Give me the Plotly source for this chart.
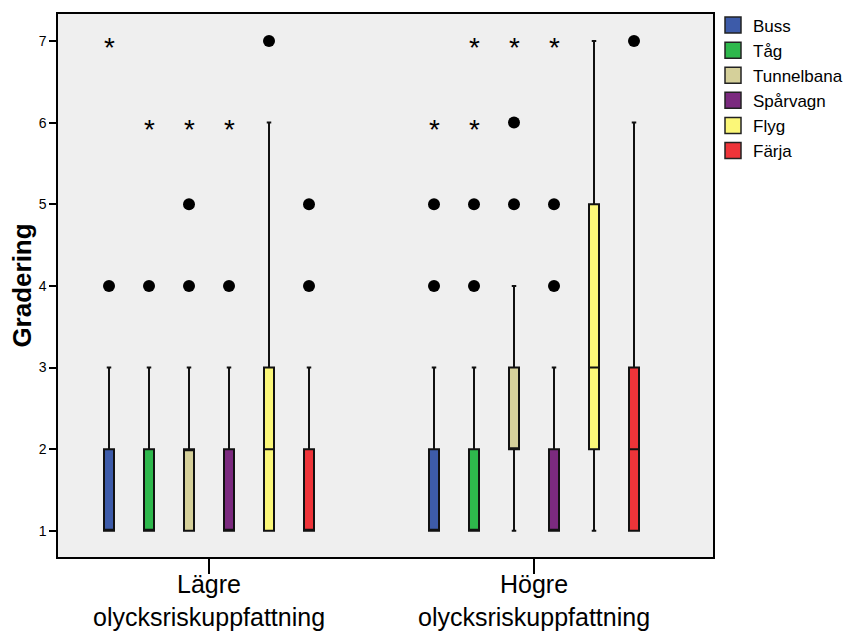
import plotly.graph_objects as go

# Grouping categories and transport modes
groups = ["Lägre<br>olycksriskuppfattning", "Högre<br>olycksriskuppfattning"]
modes = ["Buss", "Tåg", "Tunnelbana", "Spårvagn", "Flyg", "Färja"]
colors = ["#3D5BA9", "#2EB84C", "#D5D09A", "#7B2A7F", "#FBF778", "#EE3439"]

# Box statistics per mode, one value per group (Lägre, Högre)
q1 = {
    "Buss": [1, 1], "Tåg": [1, 1], "Tunnelbana": [1, 2],
    "Spårvagn": [1, 1], "Flyg": [1, 2], "Färja": [1, 1],
}
median = {
    "Buss": [1, 1], "Tåg": [1, 1], "Tunnelbana": [2, 2],
    "Spårvagn": [1, 1], "Flyg": [2, 3], "Färja": [1, 2],
}
q3 = {
    "Buss": [2, 2], "Tåg": [2, 2], "Tunnelbana": [2, 3],
    "Spårvagn": [2, 2], "Flyg": [3, 5], "Färja": [2, 3],
}
lower = {
    "Buss": [1, 1], "Tåg": [1, 1], "Tunnelbana": [1, 1],
    "Spårvagn": [1, 1], "Flyg": [1, 1], "Färja": [1, 1],
}
upper = {
    "Buss": [3, 3], "Tåg": [3, 3], "Tunnelbana": [3, 4],
    "Spårvagn": [3, 3], "Flyg": [6, 7], "Färja": [3, 6],
}
# Outliers (circles) and extreme values (asterisks)
outliers = {
    "Buss": [[4], [4, 5]], "Tåg": [[4], [4, 5]], "Tunnelbana": [[4, 5], [5, 6]],
    "Spårvagn": [[4], [4, 5]], "Flyg": [[7], []], "Färja": [[4, 5], [7]],
}
extremes = {
    "Buss": [[7], [6]], "Tåg": [[6], [6, 7]], "Tunnelbana": [[6], [7]],
    "Spårvagn": [[6], [7]], "Flyg": [[], []], "Färja": [[], []],
}

slot = 40 / 325      # spacing between neighbouring boxes within a group
box_w = 10 / 325     # box width in axis units
n_groups = len(groups)

fig = go.Figure()

for i, m in enumerate(modes):
    offs = (i - 2.5) * slot
    xs = [g + offs for g in range(n_groups)]
    fig.add_trace(go.Box(
        name=m, x=xs,
        q1=q1[m], median=median[m], q3=q3[m],
        lowerfence=lower[m], upperfence=upper[m],
        width=box_w, whiskerwidth=0.45,
        fillcolor=colors[i],
        line=dict(color="#111111", width=2),
        boxpoints=False, showlegend=False, legendgroup=m,
    ))
    ox, oy, ex, ey = [], [], [], []
    for g in range(n_groups):
        for v in outliers[m][g]:
            ox.append(g + offs); oy.append(v)
        for v in extremes[m][g]:
            ex.append(g + offs); ey.append(v)
    if ox:
        fig.add_trace(go.Scatter(
            x=ox, y=oy, mode="markers", showlegend=False, legendgroup=m,
            marker=dict(symbol="circle", size=12, color="black",
                        line=dict(width=0)),
            hoverinfo="y",
        ))
    for x, y in zip(ex, ey):
        fig.add_annotation(
            x=x, y=y, text="*", showarrow=False, yshift=-7,
            font=dict(family="Arial, Liberation Sans", size=28, color="black"),
        )
    # legend swatch for this mode
    fig.add_trace(go.Scatter(
        x=[None], y=[None], mode="markers", name=m, legendgroup=m,
        marker=dict(symbol="square", size=18, color=colors[i],
                    line=dict(color="#222222", width=1.5)),
    ))

# Two-line group labels under the x axis
for g in range(n_groups):
    fig.add_annotation(
        x=g, xref="x", y=0, yref="paper", yanchor="bottom",
        text=groups[g], showarrow=False, yshift=-76,
        font=dict(size=25, color="black"),
    )

fig.update_layout(
    width=867, height=635,
    margin=dict(l=58, r=154, t=14, b=78, autoexpand=False),
    paper_bgcolor="white",
    plot_bgcolor="#EFEFEF",
    font=dict(family="Arial, Liberation Sans, sans-serif", color="black"),
    legend=dict(
        x=1.0, y=1.012, xanchor="left", yanchor="top",
        font=dict(size=17, color="black"),
        tracegroupgap=0, itemwidth=30,
        bgcolor="rgba(0,0,0,0)",
    ),
    showlegend=True,
)
fig.update_xaxes(
    range=[-151 / 325, 1 + 179 / 325],
    tickvals=list(range(n_groups)), showticklabels=False,
    ticks="outside", ticklen=15, tickwidth=1.5, tickcolor="black",
    showline=True, linecolor="black", linewidth=1.5, mirror=True,
    showgrid=False, zeroline=False, automargin=False,
)
fig.update_yaxes(
    range=[0.68, 7.33],
    tickvals=[1, 2, 3, 4, 5, 6, 7],
    ticks="outside", ticklen=7, tickwidth=1.5, tickcolor="black",
    tickfont=dict(size=14, color="black"),
    showline=True, linecolor="black", linewidth=1.5, mirror=True,
    showgrid=False, zeroline=False, automargin=False,
    title=dict(text="<b>Gradering</b>", font=dict(size=26, color="black"),
               standoff=0),
)

fig.write_html("out.html")
